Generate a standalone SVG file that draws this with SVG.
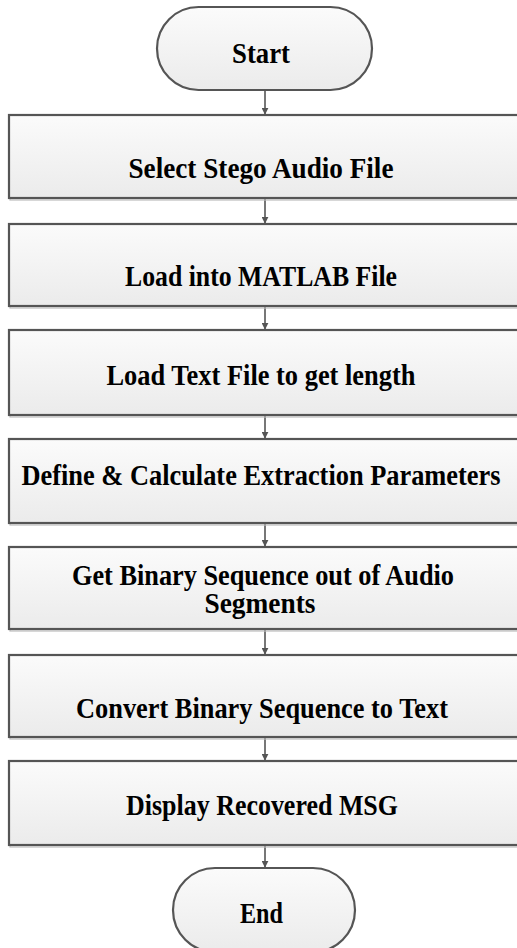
<svg xmlns="http://www.w3.org/2000/svg" width="517" height="948" viewBox="0 0 517 948">
<defs>
<linearGradient id="g" x1="0" y1="0" x2="0" y2="1">
<stop offset="0" stop-color="#fbfbfb"/>
<stop offset="1" stop-color="#ebebeb"/>
</linearGradient>
<marker id="ah" viewBox="0 0 10 10" refX="9" refY="5" markerWidth="7" markerHeight="7" markerUnits="userSpaceOnUse" orient="auto">
<path d="M0,0 L10,5 L0,10 z" fill="#555"/>
</marker>
</defs>
<style>
.box{fill:url(#g);stroke:#555;stroke-width:2.2}
.sh{fill:none;stroke:#bdbdbd;stroke-width:1.2}
.t{font-family:"Liberation Serif","Times New Roman",serif;font-weight:bold;font-size:28.5px;fill:#000;text-anchor:middle}
.c{stroke:#555;stroke-width:1.6;fill:none}
</style>
<rect width="517" height="948" fill="#fff"/>
<g id="connectors">
<line class="c" x1="265" y1="90" x2="265" y2="114" marker-end="url(#ah)"/>
<line class="c" x1="265" y1="199" x2="265" y2="223" marker-end="url(#ah)"/>
<line class="c" x1="265" y1="307" x2="265" y2="329" marker-end="url(#ah)"/>
<line class="c" x1="265" y1="416" x2="265" y2="438" marker-end="url(#ah)"/>
<line class="c" x1="265" y1="524" x2="265" y2="546" marker-end="url(#ah)"/>
<line class="c" x1="265" y1="630" x2="265" y2="654" marker-end="url(#ah)"/>
<line class="c" x1="265" y1="738" x2="265" y2="760" marker-end="url(#ah)"/>
<line class="c" x1="265" y1="846" x2="265" y2="867" marker-end="url(#ah)"/>
</g>
<g id="start">
<rect class="box" x="157" y="7" width="215" height="83" rx="41.5" ry="41.5"/>
<text class="t" x="261" y="63" textLength="58" lengthAdjust="spacingAndGlyphs">Start</text>
</g>
<g id="n1">
<rect class="sh" x="10" y="117" width="520" height="83"/>
<rect class="box" x="9" y="115" width="520" height="83"/>
<text class="t" x="261" y="178" textLength="265" lengthAdjust="spacingAndGlyphs">Select Stego Audio File</text>
</g>
<g id="n2">
<rect class="sh" x="10" y="226" width="520" height="82"/>
<rect class="box" x="9" y="224" width="520" height="82"/>
<text class="t" x="261" y="286" textLength="272" lengthAdjust="spacingAndGlyphs">Load into MATLAB File</text>
</g>
<g id="n3">
<rect class="sh" x="10" y="332" width="520" height="85"/>
<rect class="box" x="9" y="330" width="520" height="85"/>
<text class="t" x="261" y="385" textLength="309" lengthAdjust="spacingAndGlyphs">Load Text File to get length</text>
</g>
<g id="n4">
<rect class="sh" x="10" y="441" width="520" height="84"/>
<rect class="box" x="9" y="439" width="520" height="84"/>
<text class="t" x="261" y="485" textLength="479" lengthAdjust="spacingAndGlyphs">Define &amp; Calculate Extraction Parameters</text>
</g>
<g id="n5">
<rect class="sh" x="10" y="549" width="520" height="82"/>
<rect class="box" x="9" y="547" width="520" height="82"/>
<text class="t" x="263" y="585" textLength="382" lengthAdjust="spacingAndGlyphs">Get Binary Sequence out of Audio</text>
<text class="t" x="260" y="613" textLength="111" lengthAdjust="spacingAndGlyphs">Segments</text>
</g>
<g id="n6">
<rect class="sh" x="10" y="657" width="520" height="82"/>
<rect class="box" x="9" y="655" width="520" height="82"/>
<text class="t" x="262" y="718" textLength="372" lengthAdjust="spacingAndGlyphs">Convert Binary Sequence to Text</text>
</g>
<g id="n7">
<rect class="sh" x="10" y="763" width="520" height="84"/>
<rect class="box" x="9" y="761" width="520" height="84"/>
<text class="t" x="262" y="815" textLength="272" lengthAdjust="spacingAndGlyphs">Display Recovered MSG</text>
</g>
<g id="end">
<rect class="box" x="173" y="868" width="182" height="84" rx="42" ry="42"/>
<text class="t" x="261.5" y="923" textLength="43" lengthAdjust="spacingAndGlyphs">End</text>
</g>
</svg>
